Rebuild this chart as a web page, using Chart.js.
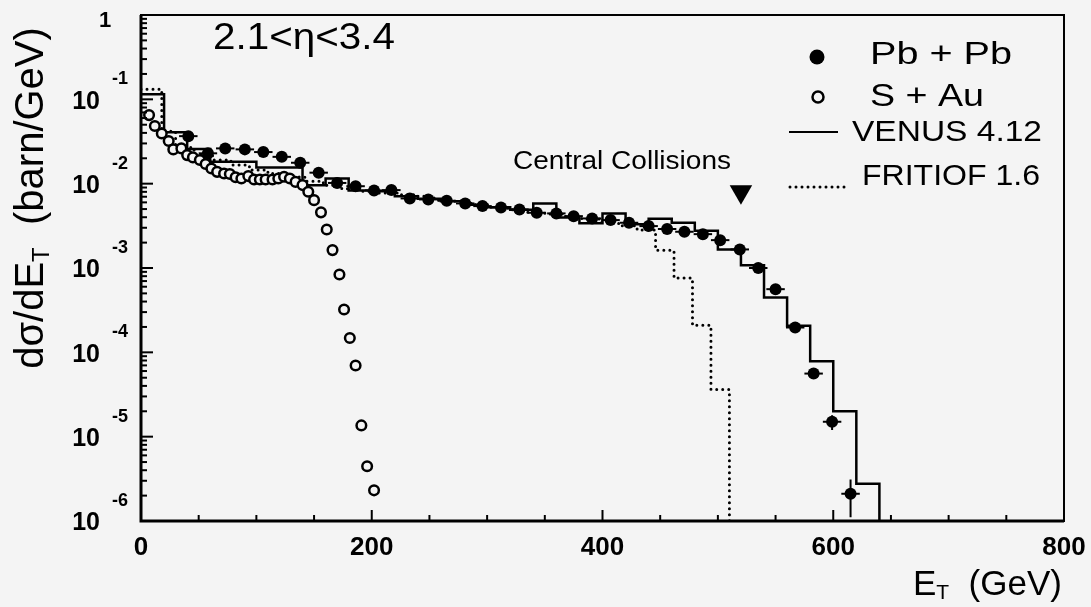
<!DOCTYPE html>
<html>
<head>
<meta charset="utf-8">
<script src="https://cdn.jsdelivr.net/npm/chart.js@4.4.1/dist/chart.umd.min.js"></script>
<style>
  html, body { margin: 0; padding: 0; background: #f4f4f4; }
  canvas { display: block; }
</style>
</head>
<body>
<canvas id="etChart" width="1091" height="607" style="width:1091px;height:607px"></canvas>
<script>
// Pb + Pb data points (E_T in GeV, dsigma/dE_T in barn/GeV)
const pbEt = [41, 58, 73, 90, 106, 122, 138, 154, 170, 186, 202, 217, 233, 249, 265, 281, 296, 312, 328,
              343, 360, 375, 391, 407, 423, 440, 456, 471, 487, 502, 519, 535, 550, 567, 583, 599, 615];
const pbYield = [0.0366, 0.0229, 0.0262, 0.0255, 0.0237, 0.0208, 0.0177, 0.0135, 0.0102, 0.00933, 0.00832,
                 0.00839, 0.00668, 0.00650, 0.00627, 0.00583, 0.00542, 0.00522, 0.00495, 0.00452, 0.00444,
                 0.00412, 0.00387, 0.00370, 0.00344, 0.00314, 0.00290, 0.00269, 0.00252, 0.00214, 0.00166,
                 0.00100, 0.000561, 0.000197, 0.0000560, 0.0000150, 0.00000211];
const pbYErr = [0, 0, 0, 0, 0, 0, 0, 0, 0, 0, 0, 0, 0, 0, 0, 0, 0, 0, 0, 0, 0, 0, 0, 0, 0, 0, 0, 0, 0, 0, 0,
                0, 0, 0, 0, 0.000003, 0.000001];
const pbXErr = 8;

// S + Au data points
const sauEt = [7, 12, 18, 24, 28, 35, 40, 45, 51, 56, 61, 66, 72, 77, 82, 87, 93, 98, 103, 108, 114, 119,
               124, 129, 134, 140, 145, 150, 156, 161, 166, 172, 176, 181, 186, 191, 196, 202];
const sauYield = [0.0650, 0.0482, 0.0394, 0.0320, 0.0255, 0.0262, 0.0218, 0.0205, 0.0191, 0.0171, 0.0151,
                  0.0138, 0.0132, 0.0130, 0.0119, 0.0115, 0.0123, 0.0112, 0.0112, 0.0112, 0.0112, 0.0115,
                  0.0121, 0.0115, 0.0105, 0.00962, 0.00802, 0.00638, 0.00457, 0.00286, 0.00163, 0.000838,
                  0.000322, 0.000148, 0.0000697, 0.0000136, 0.00000446, 0.00000231];

// VENUS 4.12 histogram (bin edges and bin contents)
const venusEdges = [0, 20, 40, 60, 80, 100, 120, 140, 160, 180, 200, 220, 240, 260, 280, 300, 320, 340, 360,
                    380, 400, 420, 440, 460, 480, 500, 520, 540, 560, 580, 600, 620, 640];
const venusYield = [0.1146, 0.0407, 0.0257, 0.0182, 0.0182, 0.0155, 0.0155, 0.00955, 0.0115, 0.00832, 0.00813,
                    0.00708, 0.00661, 0.00617, 0.00562, 0.00525, 0.00490, 0.00583, 0.00398, 0.00339, 0.00444,
                    0.00331, 0.00385, 0.00344, 0.00276, 0.00166, 0.00108, 0.000447, 0.000206, 0.0000785,
                    0.0000200, 0.00000277];

// FRITIOF 1.6 histogram
const fritiofEdges = [0, 18, 30, 46, 62, 78, 94, 110, 126, 142, 158, 174, 190, 206, 222, 238, 254, 270, 286,
                      302, 318, 334, 350, 366, 382, 398, 414, 430, 446, 462, 478, 494, 510];
const fritiofYield = [0.132, 0.0417, 0.0269, 0.0219, 0.0191, 0.0166, 0.0145, 0.0132, 0.0120, 0.0107, 0.00955,
                      0.00871, 0.00813, 0.00776, 0.00741, 0.00708, 0.00646, 0.00617, 0.00562, 0.00525, 0.00490,
                      0.00457, 0.00437, 0.00407, 0.00380, 0.00347, 0.00316, 0.00282, 0.00162, 0.000759,
                      0.000209, 0.0000363];

// central collisions marker
const centralEt = [520];
const centralYield = [0.0080];

// axes
const xTicks = [0, 200, 400, 600, 800];
const xMinorStep = 50;
const yDecades = [0, -1, -2, -3, -4, -5, -6];

const BG = '#f4f4f4';
const FONT = "'Liberation Sans', Arial, sans-serif";

function stepData(edges, vals) {
    // last edge drops to below the axis
    return edges.map((e, i) => ({ x: e, y: i < vals.length ? vals[i] : 1e-8 }));
}

function drawText(ctx, str, x, y, font, align, width) {
    ctx.save();
    ctx.font = font;
    ctx.textBaseline = 'middle';
    ctx.textAlign = 'left';
    const w = ctx.measureText(str).width;
    const sx = width ? width / w : 1;
    let left = x;
    if (align === 'center') left = x - w * sx / 2;
    if (align === 'right') left = x - w * sx;
    ctx.translate(left, y);
    ctx.scale(sx, 1);
    ctx.fillText(str, 0, 0);
    ctx.restore();
}

const decorPlugin = {
    id: 'decor',
    afterDatasetsDraw(chart) {
        const { ctx, scales: { x, y } } = chart;
        ctx.save();
        ctx.strokeStyle = '#000';
        ctx.lineWidth = 2;
        pbEt.forEach((e, i) => {
            const py = y.getPixelForValue(pbYield[i]);
            ctx.beginPath();
            ctx.moveTo(x.getPixelForValue(e - pbXErr), py);
            ctx.lineTo(x.getPixelForValue(e + pbXErr), py);
            if (pbYErr[i]) {
                const px = x.getPixelForValue(e);
                ctx.moveTo(px, y.getPixelForValue(pbYield[i] + pbYErr[i]));
                ctx.lineTo(px, y.getPixelForValue(pbYield[i] - pbYErr[i]));
            }
            ctx.stroke();
        });
        ctx.restore();
    },
    afterDraw(chart) {
        const { ctx, chartArea: a, scales: { x, y } } = chart;
        ctx.save();
        ctx.strokeStyle = '#000';
        ctx.fillStyle = '#000';

        // frame
        ctx.lineWidth = 2;
        ctx.strokeRect(a.left, a.top, a.right - a.left, a.bottom - a.top);
        ctx.lineWidth = 3;
        ctx.beginPath();
        ctx.moveTo(a.left, a.top);
        ctx.lineTo(a.left, a.bottom);
        ctx.lineTo(a.right, a.bottom);
        ctx.stroke();

        // x ticks (inside)
        ctx.lineWidth = 2;
        for (let v = 0; v <= 800; v += xMinorStep) {
            const px = x.getPixelForValue(v);
            const len = v % 200 === 0 ? 11 : 6;
            ctx.beginPath();
            ctx.moveTo(px, a.bottom);
            ctx.lineTo(px, a.bottom - len);
            ctx.stroke();
        }
        // y ticks (inside)
        for (let e = -6; e <= 0; e++) {
            for (let m = 1; m <= 9; m++) {
                if (e === 0 && m > 1) break;
                const py = y.getPixelForValue(m * Math.pow(10, e));
                const len = m === 1 ? 12 : 6;
                ctx.beginPath();
                ctx.moveTo(a.left, py);
                ctx.lineTo(a.left + len, py);
                ctx.stroke();
            }
        }

        // x tick labels
        xTicks.forEach(v => {
            drawText(ctx, String(v), x.getPixelForValue(v), a.bottom + 27, 'bold 26px ' + FONT, 'center');
        });
        // y tick labels
        yDecades.forEach(d => {
            const py = y.getPixelForValue(Math.pow(10, d));
            if (d === 0) {
                drawText(ctx, '1', 105, py + 6, 'bold 22px ' + FONT, 'center');
            } else {
                drawText(ctx, '10', 100, py + 2.5, 'bold 25px ' + FONT, 'right');
                drawText(ctx, String(d), 112, py - 20, 'bold 18px ' + FONT, 'left');
            }
        });

        // x axis title
        ctx.font = '35px ' + FONT;
        ctx.textBaseline = 'middle';
        ctx.textAlign = 'left';
        let cx = 913;
        ctx.fillText('E', cx, 585);
        cx += ctx.measureText('E').width;
        ctx.font = '21px ' + FONT;
        ctx.fillText('T', cx, 593);
        cx += ctx.measureText('T').width;
        ctx.font = '35px ' + FONT;
        ctx.fillText('  (GeV)', cx, 585);

        // y axis title (rotated)
        ctx.save();
        ctx.translate(32, 198);
        ctx.rotate(-Math.PI / 2);
        ctx.font = '40px ' + FONT;
        const p1 = 'd\u03c3/dE', p3 = '  (barn/GeV)';
        const w1 = ctx.measureText(p1).width;
        const w3 = ctx.measureText(p3).width;
        ctx.font = '24px ' + FONT;
        const w2 = ctx.measureText('T').width;
        let tx = -(w1 + w2 + w3) / 2;
        ctx.font = '40px ' + FONT;
        ctx.fillText(p1, tx, 0);
        tx += w1;
        ctx.font = '24px ' + FONT;
        ctx.fillText('T', tx, 10);
        tx += w2;
        ctx.font = '40px ' + FONT;
        ctx.fillText(p3, tx, 0);
        ctx.restore();

        // annotations
        drawText(ctx, '2.1<\u03b7<3.4', 213, 39, '36px ' + FONT, 'left', 182);
        drawText(ctx, 'Central Collisions', 513, 162, '25px ' + FONT, 'left', 218);

        // legend
        ctx.beginPath();
        ctx.arc(817, 57, 7.5, 0, Math.PI * 2);
        ctx.fill();
        drawText(ctx, 'Pb + Pb', 870, 55, '32px ' + FONT, 'left', 142);

        ctx.beginPath();
        ctx.arc(818, 97, 5.5, 0, Math.PI * 2);
        ctx.fillStyle = BG;
        ctx.fill();
        ctx.lineWidth = 2.5;
        ctx.stroke();
        ctx.fillStyle = '#000';
        drawText(ctx, 'S + Au', 870, 97, '32px ' + FONT, 'left', 114);

        ctx.lineWidth = 2;
        ctx.beginPath();
        ctx.moveTo(789, 132);
        ctx.lineTo(838, 132);
        ctx.stroke();
        drawText(ctx, 'VENUS 4.12', 852, 133, '30px ' + FONT, 'left', 190);

        ctx.save();
        ctx.lineWidth = 3;
        ctx.lineCap = 'round';
        ctx.setLineDash([0, 6]);
        ctx.beginPath();
        ctx.moveTo(790, 187);
        ctx.lineTo(848, 187);
        ctx.stroke();
        ctx.restore();
        drawText(ctx, 'FRITIOF 1.6', 862, 177, '30px ' + FONT, 'left', 178);

        ctx.restore();
    }
};

const ctx = document.getElementById('etChart').getContext('2d');
new Chart(ctx, {
    type: 'scatter',
    data: {
        datasets: [
            {
                label: 'Pb + Pb',
                data: pbEt.map((e, i) => ({ x: e, y: pbYield[i] })),
                pointStyle: 'circle',
                pointRadius: 6,
                backgroundColor: '#000',
                borderColor: '#000',
                borderWidth: 0
            },
            {
                label: 'S + Au',
                data: sauEt.map((e, i) => ({ x: e, y: sauYield[i] })),
                pointStyle: 'circle',
                pointRadius: 4.8,
                backgroundColor: BG,
                borderColor: '#000',
                borderWidth: 2.5
            },
            {
                label: 'Central Collisions',
                data: centralEt.map((e, i) => ({ x: e, y: centralYield[i] })),
                pointStyle: 'triangle',
                rotation: 180,
                pointRadius: 13,
                backgroundColor: '#000',
                borderColor: '#000',
                borderWidth: 0
            },
            {
                type: 'line',
                label: 'VENUS 4.12',
                data: stepData(venusEdges, venusYield),
                stepped: 'before',
                borderColor: '#000',
                borderWidth: 2.5,
                pointRadius: 0,
                fill: false
            },
            {
                type: 'line',
                label: 'FRITIOF 1.6',
                data: stepData(fritiofEdges, fritiofYield),
                stepped: 'before',
                borderColor: '#000',
                borderWidth: 3,
                borderDash: [0, 6],
                borderCapStyle: 'round',
                pointRadius: 0,
                fill: false
            }
        ]
    },
    options: {
        responsive: false,
        animation: false,
        layout: { padding: { left: 141, right: 27, top: 15, bottom: 86 } },
        scales: {
            x: { type: 'linear', min: 0, max: 800, display: false },
            y: { type: 'logarithmic', min: 1e-6, max: 1, display: false }
        },
        plugins: {
            legend: { display: false },
            tooltip: { enabled: false }
        }
    },
    plugins: [decorPlugin]
});
</script>
</body>
</html>
